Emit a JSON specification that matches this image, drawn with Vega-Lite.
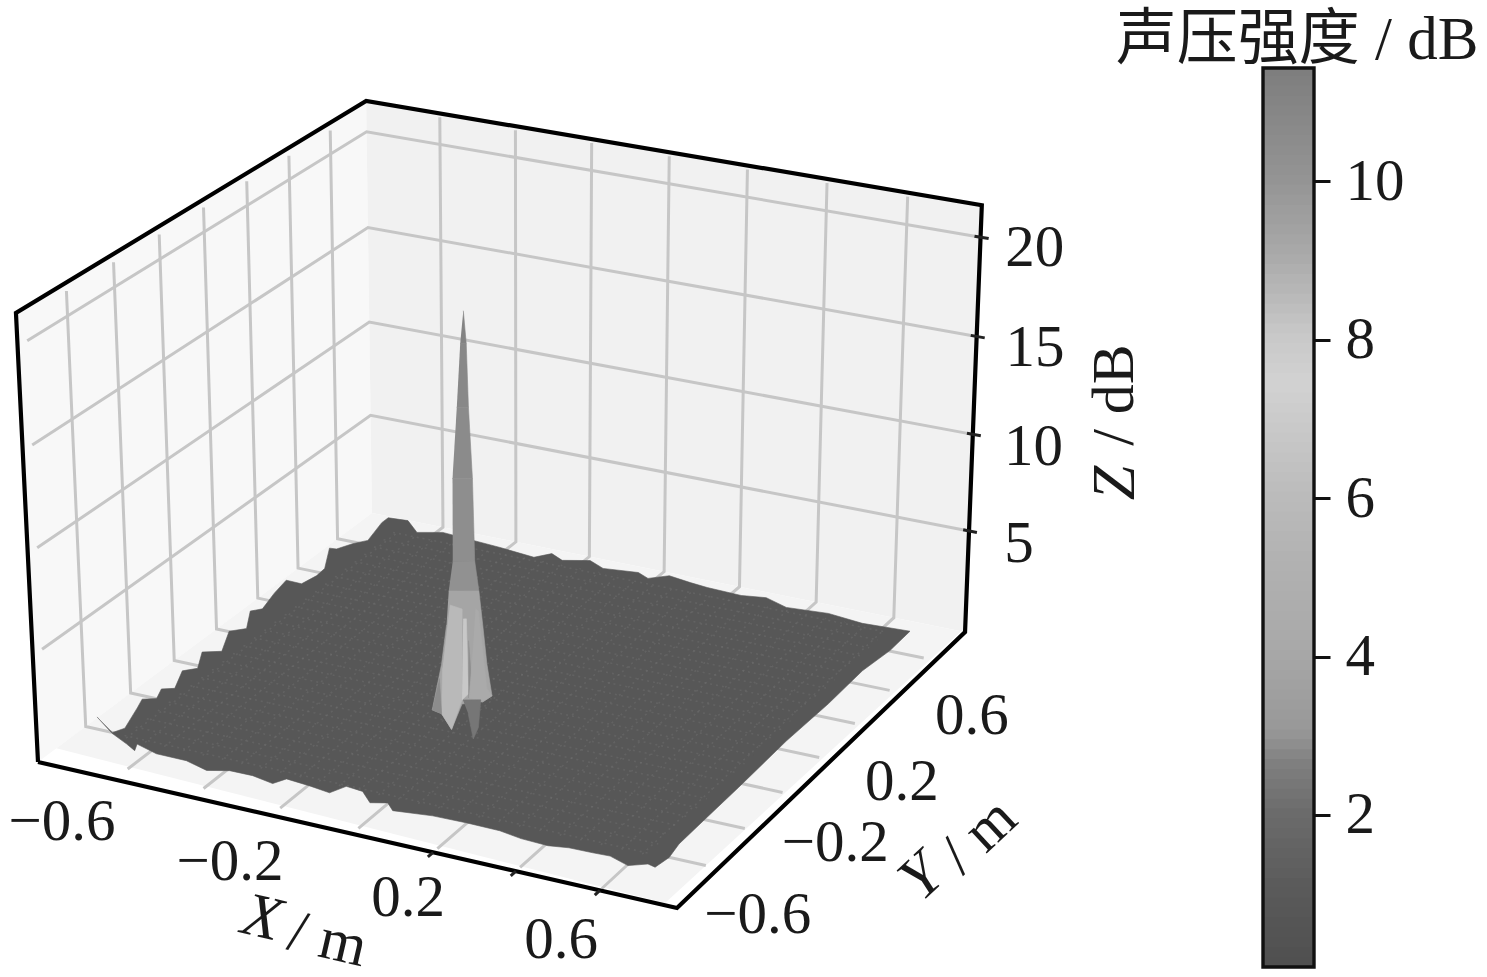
{"$schema":"https://vega.github.io/schema/vega-lite/v6.json","width":1487,"height":977,"autosize":"none","padding":0,"background":"white","config":{"view":{"stroke":null}},
"layer":[
{"data":{"values":[
{"k":"pl","p":"pl","i":0,"X":-0.8,"Y":-0.8,"Z":-0.3},{"k":"pl","p":"pl","i":1,"X":-0.8,"Y":0.8,"Z":-0.3},{"k":"pl","p":"pl","i":2,"X":-0.8,"Y":0.8,"Z":21.6},{"k":"pl","p":"pl","i":3,"X":-0.8,"Y":-0.8,"Z":21.6},
{"k":"pb","p":"pb","i":0,"X":-0.8,"Y":0.8,"Z":-0.3},{"k":"pb","p":"pb","i":1,"X":0.8,"Y":0.8,"Z":-0.3},{"k":"pb","p":"pb","i":2,"X":0.8,"Y":0.8,"Z":21.6},{"k":"pb","p":"pb","i":3,"X":-0.8,"Y":0.8,"Z":21.6},
{"k":"pf","p":"pf","i":0,"X":-0.8,"Y":-0.72,"Z":-0.3},{"k":"pf","p":"pf","i":1,"X":0.767,"Y":-0.79,"Z":-0.3},{"k":"pf","p":"pf","i":2,"X":0.79,"Y":0.8,"Z":-0.3},{"k":"pf","p":"pf","i":3,"X":-0.8,"Y":0.8,"Z":-0.3},

{"k":"g","p":"x1","i":0,"X":-0.6,"Y":-0.74,"Z":-0.3},{"k":"g","p":"x1","i":1,"X":-0.6,"Y":0.8,"Z":-0.3},{"k":"g","p":"x1","i":2,"X":-0.6,"Y":0.8,"Z":21.4},
{"k":"g","p":"x2","i":0,"X":-0.397,"Y":-0.75,"Z":-0.3},{"k":"g","p":"x2","i":1,"X":-0.397,"Y":0.8,"Z":-0.3},{"k":"g","p":"x2","i":2,"X":-0.397,"Y":0.8,"Z":21.4},
{"k":"g","p":"x3","i":0,"X":-0.195,"Y":-0.76,"Z":-0.3},{"k":"g","p":"x3","i":1,"X":-0.195,"Y":0.8,"Z":-0.3},{"k":"g","p":"x3","i":2,"X":-0.195,"Y":0.8,"Z":21.4},
{"k":"g","p":"x4","i":0,"X":0.008,"Y":-0.77,"Z":-0.3},{"k":"g","p":"x4","i":1,"X":0.008,"Y":0.8,"Z":-0.3},{"k":"g","p":"x4","i":2,"X":0.008,"Y":0.8,"Z":21.4},
{"k":"g","p":"x5","i":0,"X":0.21,"Y":-0.78,"Z":-0.3},{"k":"g","p":"x5","i":1,"X":0.21,"Y":0.8,"Z":-0.3},{"k":"g","p":"x5","i":2,"X":0.21,"Y":0.8,"Z":21.4},
{"k":"g","p":"x6","i":0,"X":0.413,"Y":-0.78,"Z":-0.3},{"k":"g","p":"x6","i":1,"X":0.413,"Y":0.8,"Z":-0.3},{"k":"g","p":"x6","i":2,"X":0.413,"Y":0.8,"Z":21.4},
{"k":"g","p":"x7","i":0,"X":0.616,"Y":-0.79,"Z":-0.3},{"k":"g","p":"x7","i":1,"X":0.616,"Y":0.8,"Z":-0.3},{"k":"g","p":"x7","i":2,"X":0.616,"Y":0.8,"Z":21.4},
{"k":"g","p":"y1","i":0,"X":0.77,"Y":-0.59,"Z":-0.3},{"k":"g","p":"y1","i":1,"X":-0.8,"Y":-0.59,"Z":-0.3},{"k":"g","p":"y1","i":2,"X":-0.8,"Y":-0.59,"Z":21.2},
{"k":"g","p":"y2","i":0,"X":0.77,"Y":-0.387,"Z":-0.3},{"k":"g","p":"y2","i":1,"X":-0.8,"Y":-0.387,"Z":-0.3},{"k":"g","p":"y2","i":2,"X":-0.8,"Y":-0.387,"Z":21.2},
{"k":"g","p":"y3","i":0,"X":0.77,"Y":-0.185,"Z":-0.3},{"k":"g","p":"y3","i":1,"X":-0.8,"Y":-0.185,"Z":-0.3},{"k":"g","p":"y3","i":2,"X":-0.8,"Y":-0.185,"Z":21.2},
{"k":"g","p":"y4","i":0,"X":0.77,"Y":0.016,"Z":-0.3},{"k":"g","p":"y4","i":1,"X":-0.8,"Y":0.016,"Z":-0.3},{"k":"g","p":"y4","i":2,"X":-0.8,"Y":0.016,"Z":21.2},
{"k":"g","p":"y5","i":0,"X":0.77,"Y":0.217,"Z":-0.3},{"k":"g","p":"y5","i":1,"X":-0.8,"Y":0.217,"Z":-0.3},{"k":"g","p":"y5","i":2,"X":-0.8,"Y":0.217,"Z":21.2},
{"k":"g","p":"y6","i":0,"X":0.77,"Y":0.418,"Z":-0.3},{"k":"g","p":"y6","i":1,"X":-0.8,"Y":0.418,"Z":-0.3},{"k":"g","p":"y6","i":2,"X":-0.8,"Y":0.418,"Z":21.2},
{"k":"g","p":"y7","i":0,"X":0.77,"Y":0.62,"Z":-0.3},{"k":"g","p":"y7","i":1,"X":-0.8,"Y":0.62,"Z":-0.3},{"k":"g","p":"y7","i":2,"X":-0.8,"Y":0.62,"Z":21.2},
{"k":"g","p":"z1","i":0,"X":-0.8,"Y":-0.76,"Z":5},{"k":"g","p":"z1","i":1,"X":-0.8,"Y":0.8,"Z":5},{"k":"g","p":"z1","i":2,"X":0.8,"Y":0.8,"Z":5},
{"k":"g","p":"z2","i":0,"X":-0.8,"Y":-0.76,"Z":10},{"k":"g","p":"z2","i":1,"X":-0.8,"Y":0.8,"Z":10},{"k":"g","p":"z2","i":2,"X":0.8,"Y":0.8,"Z":10},
{"k":"g","p":"z3","i":0,"X":-0.8,"Y":-0.76,"Z":15},{"k":"g","p":"z3","i":1,"X":-0.8,"Y":0.8,"Z":15},{"k":"g","p":"z3","i":2,"X":0.8,"Y":0.8,"Z":15},
{"k":"g","p":"z4","i":0,"X":-0.8,"Y":-0.76,"Z":20},{"k":"g","p":"z4","i":1,"X":-0.8,"Y":0.8,"Z":20},{"k":"g","p":"z4","i":2,"X":0.8,"Y":0.8,"Z":20},

{"k":"s","p":"box","i":0,"X":-0.8,"Y":-0.8,"Z":-0.3},{"k":"s","p":"box","i":1,"X":0.8,"Y":-0.8,"Z":-0.3},{"k":"s","p":"box","i":2,"X":0.8,"Y":0.8,"Z":-0.3},{"k":"s","p":"box","i":3,"X":0.8,"Y":0.8,"Z":21.6},{"k":"s","p":"box","i":4,"X":-0.8,"Y":0.8,"Z":21.6},{"k":"s","p":"box","i":5,"X":-0.8,"Y":-0.8,"Z":21.6},{"k":"s","p":"box","i":6,"X":-0.8,"Y":-0.8,"Z":-0.3},
{"k":"t","p":"t1","i":0,"X":0.785,"Y":0.8,"Z":5},{"k":"t","p":"t1","i":1,"X":0.82,"Y":0.8,"Z":5},
{"k":"t","p":"t2","i":0,"X":0.785,"Y":0.8,"Z":10},{"k":"t","p":"t2","i":1,"X":0.82,"Y":0.8,"Z":10},
{"k":"t","p":"t3","i":0,"X":0.785,"Y":0.8,"Z":15},{"k":"t","p":"t3","i":1,"X":0.82,"Y":0.8,"Z":15},
{"k":"t","p":"t4","i":0,"X":0.785,"Y":0.8,"Z":20},{"k":"t","p":"t4","i":1,"X":0.82,"Y":0.8,"Z":20},
{"k":"t","p":"t5","i":0,"X":0.21,"Y":-0.8,"Z":-0.3},{"k":"t","p":"t5","i":1,"X":0.21,"Y":-0.825,"Z":-0.3},
{"k":"t","p":"t6","i":0,"X":0.413,"Y":-0.8,"Z":-0.3},{"k":"t","p":"t6","i":1,"X":0.413,"Y":-0.825,"Z":-0.3},
{"k":"t","p":"t7","i":0,"X":0.616,"Y":-0.8,"Z":-0.3},{"k":"t","p":"t7","i":1,"X":0.616,"Y":-0.825,"Z":-0.3},

{"k":"b","p":"a0","c":0.75,"i":0,"X":-0.7,"Y":-0.7,"Z":1.54},
{"k":"b","p":"a0","c":0.75,"i":1,"X":-0.662,"Y":-0.7,"Z":0.88},{"k":"b","p":"a0","c":0.75,"i":2,"X":-0.625,"Y":-0.7,"Z":0.51},{"k":"b","p":"a0","c":0.75,"i":3,"X":-0.604,"Y":-0.7,"Z":0.26},{"k":"b","p":"a0","c":0.75,"i":4,"X":-0.597,"Y":-0.7,"Z":0.62},{"k":"b","p":"a0","c":0.75,"i":5,"X":-0.547,"Y":-0.7,"Z":0.35},{"k":"b","p":"a0","c":0.75,"i":6,"X":-0.469,"Y":-0.7,"Z":0.34},{"k":"b","p":"a0","c":0.75,"i":7,"X":-0.417,"Y":-0.7,"Z":0.08},{"k":"b","p":"a0","c":0.75,"i":8,"X":-0.357,"Y":-0.7,"Z":0.33},{"k":"b","p":"a0","c":0.75,"i":9,"X":-0.298,"Y":-0.7,"Z":0.34},{"k":"b","p":"a0","c":0.75,"i":10,"X":-0.247,"Y":-0.7,"Z":0.17},{"k":"b","p":"a0","c":0.75,"i":11,"X":-0.211,"Y":-0.7,"Z":0.56},{"k":"b","p":"a0","c":0.75,"i":12,"X":-0.152,"Y":-0.7,"Z":0.47},{"k":"b","p":"a0","c":0.75,"i":13,"X":-0.102,"Y":-0.7,"Z":0.35},{"k":"b","p":"a0","c":0.75,"i":14,"X":-0.059,"Y":-0.7,"Z":0.86},{"k":"b","p":"a0","c":0.75,"i":15,"X":-0.018,"Y":-0.7,"Z":0.79},{"k":"b","p":"a0","c":0.75,"i":16,"X":0,"Y":-0.7,"Z":0.31},{"k":"b","p":"a0","c":0.75,"i":17,"X":0.045,"Y":-0.7,"Z":0.5},{"k":"b","p":"a0","c":0.75,"i":18,"X":0.057,"Y":-0.7,"Z":0.17},{"k":"b","p":"a0","c":0.75,"i":19,"X":0.157,"Y":-0.7,"Z":0.36},{"k":"b","p":"a0","c":0.75,"i":20,"X":0.242,"Y":-0.7,"Z":0.39},{"k":"b","p":"a0","c":0.75,"i":21,"X":0.323,"Y":-0.7,"Z":0.37},{"k":"b","p":"a0","c":0.75,"i":22,"X":0.375,"Y":-0.7,"Z":0.22},{"k":"b","p":"a0","c":0.75,"i":23,"X":0.441,"Y":-0.7,"Z":0.17},{"k":"b","p":"a0","c":0.75,"i":24,"X":0.492,"Y":-0.7,"Z":0.3},{"k":"b","p":"a0","c":0.75,"i":25,"X":0.55,"Y":-0.7,"Z":0.32},{"k":"b","p":"a0","c":0.75,"i":26,"X":0.592,"Y":-0.7,"Z":0.35},{"k":"b","p":"a0","c":0.75,"i":27,"X":0.635,"Y":-0.7,"Z":0.08},{"k":"b","p":"a0","c":0.75,"i":28,"X":0.683,"Y":-0.7,"Z":0.38},{"k":"b","p":"a0","c":0.75,"i":29,"X":0.7,"Y":-0.7,"Z":0.3},
{"k":"b","p":"a0","c":0.75,"i":30,"X":0.7,"Y":-0.629,"Z":0.13},{"k":"b","p":"a0","c":0.75,"i":31,"X":0.7,"Y":-0.579,"Z":0.34},{"k":"b","p":"a0","c":0.75,"i":32,"X":0.7,"Y":-0.455,"Z":0.36},{"k":"b","p":"a0","c":0.75,"i":33,"X":0.7,"Y":-0.271,"Z":0.38},{"k":"b","p":"a0","c":0.75,"i":34,"X":0.7,"Y":-0.012,"Z":0.47},{"k":"b","p":"a0","c":0.75,"i":35,"X":0.7,"Y":0.223,"Z":0.36},{"k":"b","p":"a0","c":0.75,"i":36,"X":0.7,"Y":0.418,"Z":0.42},{"k":"b","p":"a0","c":0.75,"i":37,"X":0.7,"Y":0.582,"Z":0.12},{"k":"b","p":"a0","c":0.75,"i":38,"X":0.7,"Y":0.7,"Z":0.15},
{"k":"b","p":"a0","c":0.75,"i":39,"X":0.577,"Y":0.7,"Z":0.06},{"k":"b","p":"a0","c":0.75,"i":40,"X":0.489,"Y":0.7,"Z":0.22},{"k":"b","p":"a0","c":0.75,"i":41,"X":0.379,"Y":0.7,"Z":0.09},{"k":"b","p":"a0","c":0.75,"i":42,"X":0.326,"Y":0.7,"Z":0.39},{"k":"b","p":"a0","c":0.75,"i":43,"X":0.26,"Y":0.7,"Z":0.24},{"k":"b","p":"a0","c":0.75,"i":44,"X":0.17,"Y":0.7,"Z":0.3},{"k":"b","p":"a0","c":0.75,"i":45,"X":0.125,"Y":0.7,"Z":0.38},{"k":"b","p":"a0","c":0.75,"i":46,"X":0.069,"Y":0.7,"Z":0.52},{"k":"b","p":"a0","c":0.75,"i":47,"X":0.012,"Y":0.7,"Z":0.15},{"k":"b","p":"a0","c":0.75,"i":48,"X":-0.014,"Y":0.7,"Z":0.36},{"k":"b","p":"a0","c":0.75,"i":49,"X":-0.109,"Y":0.7,"Z":0.2},{"k":"b","p":"a0","c":0.75,"i":50,"X":-0.144,"Y":0.7,"Z":0.48},{"k":"b","p":"a0","c":0.75,"i":51,"X":-0.22,"Y":0.7,"Z":0.19},{"k":"b","p":"a0","c":0.75,"i":52,"X":-0.248,"Y":0.7,"Z":0.44},{"k":"b","p":"a0","c":0.75,"i":53,"X":-0.297,"Y":0.7,"Z":0.05},{"k":"b","p":"a0","c":0.75,"i":54,"X":-0.344,"Y":0.7,"Z":0.13},{"k":"b","p":"a0","c":0.75,"i":55,"X":-0.39,"Y":0.7,"Z":0.21},{"k":"b","p":"a0","c":0.75,"i":56,"X":-0.548,"Y":0.7,"Z":0.4},{"k":"b","p":"a0","c":0.75,"i":57,"X":-0.62,"Y":0.7,"Z":0.12},{"k":"b","p":"a0","c":0.75,"i":58,"X":-0.645,"Y":0.7,"Z":0.66},{"k":"b","p":"a0","c":0.75,"i":59,"X":-0.7,"Y":0.7,"Z":0.6},
{"k":"b","p":"a0","c":0.75,"i":60,"X":-0.7,"Y":0.666,"Z":0.6},{"k":"b","p":"a0","c":0.75,"i":61,"X":-0.7,"Y":0.593,"Z":0.21},{"k":"b","p":"a0","c":0.75,"i":62,"X":-0.7,"Y":0.515,"Z":0.64},{"k":"b","p":"a0","c":0.75,"i":63,"X":-0.7,"Y":0.433,"Z":1.0},{"k":"b","p":"a0","c":0.75,"i":64,"X":-0.7,"Y":0.398,"Z":1.32},{"k":"b","p":"a0","c":0.75,"i":65,"X":-0.7,"Y":0.372,"Z":0.44},{"k":"b","p":"a0","c":0.75,"i":66,"X":-0.7,"Y":0.332,"Z":0.38},{"k":"b","p":"a0","c":0.75,"i":67,"X":-0.7,"Y":0.256,"Z":0.55},{"k":"b","p":"a0","c":0.75,"i":68,"X":-0.7,"Y":0.182,"Z":1.33},{"k":"b","p":"a0","c":0.75,"i":69,"X":-0.7,"Y":0.123,"Z":1.12},{"k":"b","p":"a0","c":0.75,"i":70,"X":-0.7,"Y":0.064,"Z":0.77},{"k":"b","p":"a0","c":0.75,"i":71,"X":-0.7,"Y":0.006,"Z":1.12},{"k":"b","p":"a0","c":0.75,"i":72,"X":-0.7,"Y":-0.014,"Z":0.37},{"k":"b","p":"a0","c":0.75,"i":73,"X":-0.7,"Y":-0.096,"Z":0.9},{"k":"b","p":"a0","c":0.75,"i":74,"X":-0.7,"Y":-0.133,"Z":0.16},{"k":"b","p":"a0","c":0.75,"i":75,"X":-0.7,"Y":-0.224,"Z":0.87},{"k":"b","p":"a0","c":0.75,"i":76,"X":-0.7,"Y":-0.247,"Z":0.22},{"k":"b","p":"a0","c":0.75,"i":77,"X":-0.7,"Y":-0.317,"Z":0.67},{"k":"b","p":"a0","c":0.75,"i":78,"X":-0.7,"Y":-0.354,"Z":0.08},{"k":"b","p":"a0","c":0.75,"i":79,"X":-0.7,"Y":-0.414,"Z":0.55},{"k":"b","p":"a0","c":0.75,"i":80,"X":-0.7,"Y":-0.437,"Z":0.25},{"k":"b","p":"a0","c":0.75,"i":81,"X":-0.7,"Y":-0.501,"Z":0.76},{"k":"b","p":"a0","c":0.75,"i":82,"X":-0.7,"Y":-0.524,"Z":0.51},{"k":"b","p":"a0","c":0.75,"i":83,"X":-0.7,"Y":-0.582,"Z":-0.03},{"k":"b","p":"a0","c":0.75,"i":84,"X":-0.7,"Y":-0.636,"Z":0.21},

{"k":"m","p":"mx01","i":0,"X":-0.65,"Y":-0.66,"Z":0.35},{"k":"m","p":"mx01","i":1,"X":-0.65,"Y":0.66,"Z":0.35},{"k":"m","p":"mx02","i":0,"X":-0.6,"Y":-0.66,"Z":0.35},{"k":"m","p":"mx02","i":1,"X":-0.6,"Y":0.66,"Z":0.35},{"k":"m","p":"mx03","i":0,"X":-0.55,"Y":-0.66,"Z":0.35},{"k":"m","p":"mx03","i":1,"X":-0.55,"Y":0.66,"Z":0.35},{"k":"m","p":"mx04","i":0,"X":-0.5,"Y":-0.66,"Z":0.35},{"k":"m","p":"mx04","i":1,"X":-0.5,"Y":0.66,"Z":0.35},{"k":"m","p":"mx05","i":0,"X":-0.45,"Y":-0.66,"Z":0.35},{"k":"m","p":"mx05","i":1,"X":-0.45,"Y":0.66,"Z":0.35},{"k":"m","p":"mx06","i":0,"X":-0.4,"Y":-0.66,"Z":0.35},{"k":"m","p":"mx06","i":1,"X":-0.4,"Y":0.66,"Z":0.35},{"k":"m","p":"mx07","i":0,"X":-0.35,"Y":-0.66,"Z":0.35},{"k":"m","p":"mx07","i":1,"X":-0.35,"Y":0.66,"Z":0.35},{"k":"m","p":"mx08","i":0,"X":-0.3,"Y":-0.66,"Z":0.35},{"k":"m","p":"mx08","i":1,"X":-0.3,"Y":0.66,"Z":0.35},{"k":"m","p":"mx09","i":0,"X":-0.25,"Y":-0.66,"Z":0.35},{"k":"m","p":"mx09","i":1,"X":-0.25,"Y":0.66,"Z":0.35},{"k":"m","p":"mx10","i":0,"X":-0.2,"Y":-0.66,"Z":0.35},{"k":"m","p":"mx10","i":1,"X":-0.2,"Y":0.66,"Z":0.35},{"k":"m","p":"mx11","i":0,"X":-0.15,"Y":-0.66,"Z":0.35},{"k":"m","p":"mx11","i":1,"X":-0.15,"Y":0.66,"Z":0.35},{"k":"m","p":"mx12","i":0,"X":-0.1,"Y":-0.66,"Z":0.35},{"k":"m","p":"mx12","i":1,"X":-0.1,"Y":0.66,"Z":0.35},{"k":"m","p":"mx13","i":0,"X":-0.05,"Y":-0.66,"Z":0.35},{"k":"m","p":"mx13","i":1,"X":-0.05,"Y":0.66,"Z":0.35},{"k":"m","p":"mx14","i":0,"X":0,"Y":-0.66,"Z":0.35},{"k":"m","p":"mx14","i":1,"X":0,"Y":0.66,"Z":0.35},{"k":"m","p":"mx15","i":0,"X":0.05,"Y":-0.66,"Z":0.35},{"k":"m","p":"mx15","i":1,"X":0.05,"Y":0.66,"Z":0.35},{"k":"m","p":"mx16","i":0,"X":0.1,"Y":-0.66,"Z":0.35},{"k":"m","p":"mx16","i":1,"X":0.1,"Y":0.66,"Z":0.35},{"k":"m","p":"mx17","i":0,"X":0.15,"Y":-0.66,"Z":0.35},{"k":"m","p":"mx17","i":1,"X":0.15,"Y":0.66,"Z":0.35},{"k":"m","p":"mx18","i":0,"X":0.2,"Y":-0.66,"Z":0.35},{"k":"m","p":"mx18","i":1,"X":0.2,"Y":0.66,"Z":0.35},{"k":"m","p":"mx19","i":0,"X":0.25,"Y":-0.66,"Z":0.35},{"k":"m","p":"mx19","i":1,"X":0.25,"Y":0.66,"Z":0.35},{"k":"m","p":"mx20","i":0,"X":0.3,"Y":-0.66,"Z":0.35},{"k":"m","p":"mx20","i":1,"X":0.3,"Y":0.66,"Z":0.35},{"k":"m","p":"mx21","i":0,"X":0.35,"Y":-0.66,"Z":0.35},{"k":"m","p":"mx21","i":1,"X":0.35,"Y":0.66,"Z":0.35},{"k":"m","p":"mx22","i":0,"X":0.4,"Y":-0.66,"Z":0.35},{"k":"m","p":"mx22","i":1,"X":0.4,"Y":0.66,"Z":0.35},{"k":"m","p":"mx23","i":0,"X":0.45,"Y":-0.66,"Z":0.35},{"k":"m","p":"mx23","i":1,"X":0.45,"Y":0.66,"Z":0.35},{"k":"m","p":"mx24","i":0,"X":0.5,"Y":-0.66,"Z":0.35},{"k":"m","p":"mx24","i":1,"X":0.5,"Y":0.66,"Z":0.35},{"k":"m","p":"mx25","i":0,"X":0.55,"Y":-0.66,"Z":0.35},{"k":"m","p":"mx25","i":1,"X":0.55,"Y":0.66,"Z":0.35},{"k":"m","p":"mx26","i":0,"X":0.6,"Y":-0.66,"Z":0.35},{"k":"m","p":"mx26","i":1,"X":0.6,"Y":0.66,"Z":0.35},{"k":"m","p":"mx27","i":0,"X":0.65,"Y":-0.66,"Z":0.35},{"k":"m","p":"mx27","i":1,"X":0.65,"Y":0.66,"Z":0.35},
{"k":"m","p":"my01","i":0,"X":-0.66,"Y":-0.65,"Z":0.35},{"k":"m","p":"my01","i":1,"X":0.66,"Y":-0.65,"Z":0.35},{"k":"m","p":"my02","i":0,"X":-0.66,"Y":-0.6,"Z":0.35},{"k":"m","p":"my02","i":1,"X":0.66,"Y":-0.6,"Z":0.35},{"k":"m","p":"my03","i":0,"X":-0.66,"Y":-0.55,"Z":0.35},{"k":"m","p":"my03","i":1,"X":0.66,"Y":-0.55,"Z":0.35},{"k":"m","p":"my04","i":0,"X":-0.66,"Y":-0.5,"Z":0.35},{"k":"m","p":"my04","i":1,"X":0.66,"Y":-0.5,"Z":0.35},{"k":"m","p":"my05","i":0,"X":-0.66,"Y":-0.45,"Z":0.35},{"k":"m","p":"my05","i":1,"X":0.66,"Y":-0.45,"Z":0.35},{"k":"m","p":"my06","i":0,"X":-0.66,"Y":-0.4,"Z":0.35},{"k":"m","p":"my06","i":1,"X":0.66,"Y":-0.4,"Z":0.35},{"k":"m","p":"my07","i":0,"X":-0.66,"Y":-0.35,"Z":0.35},{"k":"m","p":"my07","i":1,"X":0.66,"Y":-0.35,"Z":0.35},{"k":"m","p":"my08","i":0,"X":-0.66,"Y":-0.3,"Z":0.35},{"k":"m","p":"my08","i":1,"X":0.66,"Y":-0.3,"Z":0.35},{"k":"m","p":"my09","i":0,"X":-0.66,"Y":-0.25,"Z":0.35},{"k":"m","p":"my09","i":1,"X":0.66,"Y":-0.25,"Z":0.35},{"k":"m","p":"my10","i":0,"X":-0.66,"Y":-0.2,"Z":0.35},{"k":"m","p":"my10","i":1,"X":0.66,"Y":-0.2,"Z":0.35},{"k":"m","p":"my11","i":0,"X":-0.66,"Y":-0.15,"Z":0.35},{"k":"m","p":"my11","i":1,"X":0.66,"Y":-0.15,"Z":0.35},{"k":"m","p":"my12","i":0,"X":-0.66,"Y":-0.1,"Z":0.35},{"k":"m","p":"my12","i":1,"X":0.66,"Y":-0.1,"Z":0.35},{"k":"m","p":"my13","i":0,"X":-0.66,"Y":-0.05,"Z":0.35},{"k":"m","p":"my13","i":1,"X":0.66,"Y":-0.05,"Z":0.35},{"k":"m","p":"my14","i":0,"X":-0.66,"Y":0,"Z":0.35},{"k":"m","p":"my14","i":1,"X":0.66,"Y":0,"Z":0.35},{"k":"m","p":"my15","i":0,"X":-0.66,"Y":0.05,"Z":0.35},{"k":"m","p":"my15","i":1,"X":0.66,"Y":0.05,"Z":0.35},{"k":"m","p":"my16","i":0,"X":-0.66,"Y":0.1,"Z":0.35},{"k":"m","p":"my16","i":1,"X":0.66,"Y":0.1,"Z":0.35},{"k":"m","p":"my17","i":0,"X":-0.66,"Y":0.15,"Z":0.35},{"k":"m","p":"my17","i":1,"X":0.66,"Y":0.15,"Z":0.35},{"k":"m","p":"my18","i":0,"X":-0.66,"Y":0.2,"Z":0.35},{"k":"m","p":"my18","i":1,"X":0.66,"Y":0.2,"Z":0.35},{"k":"m","p":"my19","i":0,"X":-0.66,"Y":0.25,"Z":0.35},{"k":"m","p":"my19","i":1,"X":0.66,"Y":0.25,"Z":0.35},{"k":"m","p":"my20","i":0,"X":-0.66,"Y":0.3,"Z":0.35},{"k":"m","p":"my20","i":1,"X":0.66,"Y":0.3,"Z":0.35},{"k":"m","p":"my21","i":0,"X":-0.66,"Y":0.35,"Z":0.35},{"k":"m","p":"my21","i":1,"X":0.66,"Y":0.35,"Z":0.35},{"k":"m","p":"my22","i":0,"X":-0.66,"Y":0.4,"Z":0.35},{"k":"m","p":"my22","i":1,"X":0.66,"Y":0.4,"Z":0.35},{"k":"m","p":"my23","i":0,"X":-0.66,"Y":0.45,"Z":0.35},{"k":"m","p":"my23","i":1,"X":0.66,"Y":0.45,"Z":0.35},{"k":"m","p":"my24","i":0,"X":-0.66,"Y":0.5,"Z":0.35},{"k":"m","p":"my24","i":1,"X":0.66,"Y":0.5,"Z":0.35},{"k":"m","p":"my25","i":0,"X":-0.66,"Y":0.55,"Z":0.35},{"k":"m","p":"my25","i":1,"X":0.66,"Y":0.55,"Z":0.35},{"k":"m","p":"my26","i":0,"X":-0.66,"Y":0.6,"Z":0.35},{"k":"m","p":"my26","i":1,"X":0.66,"Y":0.6,"Z":0.35},{"k":"m","p":"my27","i":0,"X":-0.66,"Y":0.65,"Z":0.35},{"k":"m","p":"my27","i":1,"X":0.66,"Y":0.65,"Z":0.35},

{"k":"f","p":"s01","c":11,"i":0,"X":-0.025,"Y":-0.183,"Z":20.2},{"k":"f","p":"s01","c":11,"i":1,"X":-0.02,"Y":-0.18,"Z":18.6},{"k":"f","p":"s01","c":11,"i":2,"X":-0.032,"Y":-0.186,"Z":18.6},
{"k":"f","p":"s02","c":10.7,"i":0,"X":-0.032,"Y":-0.186,"Z":18.6},{"k":"f","p":"s02","c":10.7,"i":1,"X":-0.02,"Y":-0.18,"Z":18.6},{"k":"f","p":"s02","c":10.7,"i":2,"X":-0.017,"Y":-0.178,"Z":15.5},{"k":"f","p":"s02","c":10.7,"i":3,"X":-0.04,"Y":-0.19,"Z":15.5},
{"k":"f","p":"s03","c":10.5,"i":0,"X":-0.04,"Y":-0.19,"Z":15.5},{"k":"f","p":"s03","c":10.5,"i":1,"X":-0.017,"Y":-0.178,"Z":15.5},{"k":"f","p":"s03","c":10.5,"i":2,"X":-0.01,"Y":-0.175,"Z":12},{"k":"f","p":"s03","c":10.5,"i":3,"X":-0.05,"Y":-0.195,"Z":12},
{"k":"f","p":"s04","c":10.3,"i":0,"X":-0.05,"Y":-0.195,"Z":12},{"k":"f","p":"s04","c":10.3,"i":1,"X":-0.01,"Y":-0.175,"Z":12},{"k":"f","p":"s04","c":10.3,"i":2,"X":-0.007,"Y":-0.173,"Z":7.9},{"k":"f","p":"s04","c":10.3,"i":3,"X":-0.051,"Y":-0.196,"Z":7.9},
{"k":"f","p":"s05","c":10.1,"i":0,"X":-0.051,"Y":-0.196,"Z":7.9},{"k":"f","p":"s05","c":10.1,"i":1,"X":-0.007,"Y":-0.173,"Z":7.9},{"k":"f","p":"s05","c":10.1,"i":2,"X":0.001,"Y":-0.169,"Z":6.4},{"k":"f","p":"s05","c":10.1,"i":3,"X":-0.06,"Y":-0.2,"Z":6.4},
{"k":"f","p":"s06","c":9.2,"i":0,"X":-0.06,"Y":-0.2,"Z":6.4},{"k":"f","p":"s06","c":9.2,"i":1,"X":0.001,"Y":-0.169,"Z":6.4},{"k":"f","p":"s06","c":9.2,"i":2,"X":0.008,"Y":-0.165,"Z":4.7},{"k":"f","p":"s06","c":9.2,"i":3,"X":0.016,"Y":-0.161,"Z":2.7},{"k":"f","p":"s06","c":9.2,"i":4,"X":0.026,"Y":-0.156,"Z":1.1},{"k":"f","p":"s06","c":9.2,"i":5,"X":0.007,"Y":-0.166,"Z":0.8},{"k":"f","p":"s06","c":9.2,"i":6,"X":-0.035,"Y":-0.188,"Z":0.7},{"k":"f","p":"s06","c":9.2,"i":7,"X":-0.057,"Y":-0.199,"Z":-0.6},{"k":"f","p":"s06","c":9.2,"i":8,"X":-0.077,"Y":-0.209,"Z":0.2},{"k":"f","p":"s06","c":9.2,"i":9,"X":-0.096,"Y":-0.219,"Z":0.4},{"k":"f","p":"s06","c":9.2,"i":10,"X":-0.076,"Y":-0.209,"Z":2.7},{"k":"f","p":"s06","c":9.2,"i":11,"X":-0.065,"Y":-0.203,"Z":4.7},
{"k":"f","p":"s07","c":8.5,"i":0,"X":-0.058,"Y":-0.199,"Z":5.7},{"k":"f","p":"s07","c":8.5,"i":1,"X":-0.033,"Y":-0.187,"Z":5.5},{"k":"f","p":"s07","c":8.5,"i":2,"X":-0.035,"Y":-0.188,"Z":0.9},{"k":"f","p":"s07","c":8.5,"i":3,"X":-0.057,"Y":-0.199,"Z":-0.6},{"k":"f","p":"s07","c":8.5,"i":4,"X":-0.077,"Y":-0.209,"Z":0.2},{"k":"f","p":"s07","c":8.5,"i":5,"X":-0.074,"Y":-0.208,"Z":2.5},
{"k":"f","p":"s08","c":8,"i":0,"X":-0.031,"Y":-0.186,"Z":5},{"k":"f","p":"s08","c":8,"i":1,"X":-0.025,"Y":-0.182,"Z":5},{"k":"f","p":"s08","c":8,"i":2,"X":-0.022,"Y":-0.181,"Z":1.2},{"k":"f","p":"s08","c":8,"i":3,"X":-0.035,"Y":-0.188,"Z":0.9},
{"k":"f","p":"s09","c":10.3,"i":0,"X":-0.021,"Y":-0.18,"Z":3.9},{"k":"f","p":"s09","c":10.3,"i":1,"X":-0.016,"Y":-0.178,"Z":2.2},{"k":"f","p":"s09","c":10.3,"i":2,"X":-0.022,"Y":-0.181,"Z":1},
{"k":"f","p":"s10","c":9,"i":0,"X":-0.006,"Y":-0.173,"Z":5.5},{"k":"f","p":"s10","c":9,"i":1,"X":0,"Y":-0.17,"Z":5.4},{"k":"f","p":"s10","c":9,"i":2,"X":0.016,"Y":-0.162,"Z":1.5},{"k":"f","p":"s10","c":9,"i":3,"X":0.026,"Y":-0.156,"Z":1.1},{"k":"f","p":"s10","c":9,"i":4,"X":0.007,"Y":-0.166,"Z":0.8},{"k":"f","p":"s10","c":9,"i":5,"X":-0.02,"Y":-0.18,"Z":1},{"k":"f","p":"s10","c":9,"i":6,"X":-0.013,"Y":-0.176,"Z":3.2},
{"k":"f","p":"s11","c":10.4,"i":0,"X":-0.081,"Y":-0.211,"Z":2},{"k":"f","p":"s11","c":10.4,"i":1,"X":-0.077,"Y":-0.209,"Z":0.2},{"k":"f","p":"s11","c":10.4,"i":2,"X":-0.096,"Y":-0.219,"Z":0.4},
{"k":"f","p":"s12","c":2.3,"i":0,"X":-0.033,"Y":-0.187,"Z":0.9},{"k":"f","p":"s12","c":2.3,"i":1,"X":0.003,"Y":-0.168,"Z":0.9},{"k":"f","p":"s12","c":2.3,"i":2,"X":-0.002,"Y":-0.171,"Z":-0.5},{"k":"f","p":"s12","c":2.3,"i":3,"X":-0.013,"Y":-0.176,"Z":-1.1},{"k":"f","p":"s12","c":2.3,"i":4,"X":-0.023,"Y":-0.181,"Z":0.2},

{"k":"l","t":"−0.6","X":-0.593,"Y":-1.038,"Z":-0.3},{"k":"l","t":"−0.2","X":-0.164,"Y":-1.041,"Z":-0.3},{"k":"l","t":"0.2","X":0.263,"Y":-1.018,"Z":-0.3},{"k":"l","t":"0.6","X":0.644,"Y":-1.044,"Z":-0.3},
{"k":"l","t":"−0.6","X":0.968,"Y":-0.751,"Z":-0.3},{"k":"l","t":"−0.2","X":0.977,"Y":-0.363,"Z":-0.3},{"k":"l","t":"0.2","X":0.987,"Y":-0.016,"Z":-0.3},{"k":"l","t":"0.6","X":0.994,"Y":0.375,"Z":-0.3},
{"k":"lz","t":"5","X":0.813,"Y":0.8,"Z":5},{"k":"lz","t":"10","X":0.803,"Y":0.8,"Z":10},{"k":"lz","t":"15","X":0.797,"Y":0.8,"Z":15},{"k":"lz","t":"20","X":0.787,"Y":0.8,"Z":20},
{"k":"xi","t":"X","X":0.028,"Y":-1.241,"Z":-0.3},{"k":"xr","t":"/ m","X":0.202,"Y":-1.267,"Z":-0.3},
{"k":"yi","t":"Y","X":1.21,"Y":-0.43,"Z":-0.3},{"k":"yr","t":"/ m","X":1.245,"Y":-0.189,"Z":-0.3},
{"k":"zi","t":"Z","X":0.788,"Y":1.811,"Z":-0.3},{"k":"zr","t":"/ dB","X":0.572,"Y":2.367,"Z":-0.3}
]},
"transform":[
{"calculate":"(datum.X+0.8)/1.6","as":"u"},
{"calculate":"(datum.Y+0.8)/1.6","as":"v"},
{"calculate":"(datum.Z+0.3)/21.9","as":"w"},
{"calculate":"1-0.0533*datum.u+0.1033*datum.v-0.03*datum.w","as":"den"},
{"calculate":"(38+602.9*datum.u+372.4*datum.v-20*datum.w)/datum.den+datum.w*(-2.6+5.6*datum.u+5*datum.v)","as":"sx"},
{"calculate":"(762+97.6*datum.u-196*datum.v-458.4*datum.w)/datum.den+datum.w*(3.3*datum.u+0.7*datum.v)","as":"sy"}
],
"encoding":{
"x":{"field":"sx","type":"quantitative","axis":null,"scale":{"domain":[0,1487],"range":[0,1487],"nice":false,"zero":false}},
"y":{"field":"sy","type":"quantitative","axis":null,"scale":{"domain":[0,977],"range":[0,977],"nice":false,"zero":false}}
},
"layer":[
{"transform":[{"filter":"datum.k=='pl'"}],"mark":{"type":"line","fill":"#f8f8f8","stroke":"transparent"},"encoding":{"order":{"field":"i"}}},
{"transform":[{"filter":"datum.k=='pb'"}],"mark":{"type":"line","fill":"#f1f1f1","stroke":"transparent"},"encoding":{"order":{"field":"i"}}},
{"transform":[{"filter":"datum.k=='pf'"}],"mark":{"type":"line","fill":"#f4f4f4","stroke":"transparent"},"encoding":{"order":{"field":"i"}}},
{"transform":[{"filter":"datum.k=='g'"}],"mark":{"type":"line","stroke":"#c6c6c6","strokeWidth":3,"strokeJoin":"miter"},"encoding":{"detail":{"field":"p"},"order":{"field":"i"}}},
{"transform":[{"filter":"datum.k=='s'"}],"mark":{"type":"line","stroke":"#000000","strokeWidth":4.2,"strokeJoin":"miter"},"encoding":{"order":{"field":"i"}}},
{"transform":[{"filter":"datum.k=='t'"}],"mark":{"type":"line","stroke":"#222222","strokeWidth":3},"encoding":{"detail":{"field":"p"},"order":{"field":"i"}}},
{"transform":[{"filter":"datum.k=='b'"}],"mark":{"type":"line","fill":"#575757","stroke":"#575757","strokeWidth":0.6,"strokeJoin":"round"},"encoding":{"order":{"field":"i"}}},
{"transform":[{"filter":"datum.k=='m'"}],"mark":{"type":"line","stroke":"#707070","strokeWidth":1.6,"strokeDash":[2,4],"opacity":0.45},"encoding":{"detail":{"field":"p"},"order":{"field":"i"}}},
{"transform":[{"filter":"datum.k=='f'"}],"mark":{"type":"line","strokeWidth":0.6,"strokeJoin":"round"},"encoding":{"detail":{"field":"p"},"order":{"field":"i"},
"stroke":{"field":"c","type":"quantitative","legend":null,"scale":{"domain":[0.08,1,2,2.6,3,4,5,6,7.4,8,9,10,11.43],"range":["#505050","#5a5a5a","#6c6c6c","#808080","#989898","#a8a8a8","#b0b0b0","#bcbcbc","#d2d2d2","#c8c8c8","#aaaaaa","#939393","#7c7c7c"]}},
"fill":{"field":"c","type":"quantitative","legend":null,"scale":{"domain":[0.08,1,2,2.6,3,4,5,6,7.4,8,9,10,11.43],"range":["#505050","#5a5a5a","#6c6c6c","#808080","#989898","#a8a8a8","#b0b0b0","#bcbcbc","#d2d2d2","#c8c8c8","#aaaaaa","#939393","#7c7c7c"]}}}},
{"transform":[{"filter":"datum.k=='l'"}],"mark":{"type":"text","font":"Liberation Serif","fontSize":59,"fill":"#1a1a1a","align":"center","baseline":"middle"},"encoding":{"text":{"field":"t"}}},
{"transform":[{"filter":"datum.k=='lz'"}],"mark":{"type":"text","font":"Liberation Serif","fontSize":59,"fill":"#1a1a1a","align":"left","baseline":"middle","dx":30,"dy":12},"encoding":{"text":{"field":"t"}}},
{"transform":[{"filter":"datum.k=='xi'"}],"mark":{"type":"text","font":"Liberation Serif","fontStyle":"italic","fontSize":62,"fill":"#1a1a1a","align":"center","baseline":"middle","angle":13},"encoding":{"text":{"field":"t"}}},
{"transform":[{"filter":"datum.k=='xr'"}],"mark":{"type":"text","font":"Liberation Serif","fontSize":60,"fill":"#1a1a1a","align":"center","baseline":"middle","angle":13},"encoding":{"text":{"field":"t"}}},
{"transform":[{"filter":"datum.k=='yi'"}],"mark":{"type":"text","font":"Liberation Serif","fontStyle":"italic","fontSize":62,"fill":"#1a1a1a","align":"center","baseline":"middle","angle":-43},"encoding":{"text":{"field":"t"}}},
{"transform":[{"filter":"datum.k=='yr'"}],"mark":{"type":"text","font":"Liberation Serif","fontSize":60,"fill":"#1a1a1a","align":"center","baseline":"middle","angle":-43},"encoding":{"text":{"field":"t"}}},
{"transform":[{"filter":"datum.k=='zi'"}],"mark":{"type":"text","font":"Liberation Serif","fontStyle":"italic","fontSize":62,"fill":"#1a1a1a","align":"center","baseline":"middle","angle":-90},"encoding":{"text":{"field":"t"}}},
{"transform":[{"filter":"datum.k=='zr'"}],"mark":{"type":"text","font":"Liberation Serif","fontSize":60,"fill":"#1a1a1a","align":"center","baseline":"middle","angle":-90},"encoding":{"text":{"field":"t"}}}
]},
{"layer":[
{"data":{"values":[{"v":0.08,"v2":0.22},{"v":0.205,"v2":0.345},{"v":0.33,"v2":0.47},{"v":0.455,"v2":0.595},{"v":0.58,"v2":0.72},{"v":0.705,"v2":0.845},{"v":0.83,"v2":0.97},{"v":0.955,"v2":1.095},{"v":1.08,"v2":1.22},{"v":1.205,"v2":1.345},{"v":1.33,"v2":1.47},{"v":1.455,"v2":1.595},{"v":1.58,"v2":1.72},{"v":1.705,"v2":1.845},{"v":1.83,"v2":1.97},{"v":1.955,"v2":2.095},{"v":2.08,"v2":2.22},{"v":2.205,"v2":2.345},{"v":2.33,"v2":2.47},{"v":2.455,"v2":2.595},{"v":2.58,"v2":2.72},{"v":2.705,"v2":2.845},{"v":2.83,"v2":2.97},{"v":2.955,"v2":3.095},{"v":3.08,"v2":3.22},{"v":3.205,"v2":3.345},{"v":3.33,"v2":3.47},{"v":3.455,"v2":3.595},{"v":3.58,"v2":3.72},{"v":3.705,"v2":3.845},{"v":3.83,"v2":3.97},{"v":3.955,"v2":4.095},{"v":4.08,"v2":4.22},{"v":4.205,"v2":4.345},{"v":4.33,"v2":4.47},{"v":4.455,"v2":4.595},{"v":4.58,"v2":4.72},{"v":4.705,"v2":4.845},{"v":4.83,"v2":4.97},{"v":4.955,"v2":5.095},{"v":5.08,"v2":5.22},{"v":5.205,"v2":5.345},{"v":5.33,"v2":5.47},{"v":5.455,"v2":5.595},{"v":5.58,"v2":5.72},{"v":5.705,"v2":5.845},{"v":5.83,"v2":5.97},{"v":5.955,"v2":6.095},{"v":6.08,"v2":6.22},{"v":6.205,"v2":6.345},{"v":6.33,"v2":6.47},{"v":6.455,"v2":6.595},{"v":6.58,"v2":6.72},{"v":6.705,"v2":6.845},{"v":6.83,"v2":6.97},{"v":6.955,"v2":7.095},{"v":7.08,"v2":7.22},{"v":7.205,"v2":7.345},{"v":7.33,"v2":7.47},{"v":7.455,"v2":7.595},{"v":7.58,"v2":7.72},{"v":7.705,"v2":7.845},{"v":7.83,"v2":7.97},{"v":7.955,"v2":8.095},{"v":8.08,"v2":8.22},{"v":8.205,"v2":8.345},{"v":8.33,"v2":8.47},{"v":8.455,"v2":8.595},{"v":8.58,"v2":8.72},{"v":8.705,"v2":8.845},{"v":8.83,"v2":8.97},{"v":8.955,"v2":9.095},{"v":9.08,"v2":9.22},{"v":9.205,"v2":9.345},{"v":9.33,"v2":9.47},{"v":9.455,"v2":9.595},{"v":9.58,"v2":9.72},{"v":9.705,"v2":9.845},{"v":9.83,"v2":9.97},{"v":9.955,"v2":10.095},{"v":10.08,"v2":10.22},{"v":10.205,"v2":10.345},{"v":10.33,"v2":10.47},{"v":10.455,"v2":10.595},{"v":10.58,"v2":10.72},{"v":10.705,"v2":10.845},{"v":10.83,"v2":10.97},{"v":10.955,"v2":11.095},{"v":11.08,"v2":11.22},{"v":11.205,"v2":11.345},{"v":11.33,"v2":11.43}]},
"mark":{"type":"rect"},
"encoding":{
"x":{"datum":0,"type":"quantitative","axis":null,"scale":{"domain":[0,1],"range":[1263,1314],"nice":false,"zero":false}},
"x2":{"datum":1},
"y":{"field":"v","type":"quantitative","scale":{"domain":[0.08,11.43],"range":[967,68],"nice":false,"zero":false},
"axis":{"orient":"right","offset":-173,"values":[2,4,6,8,10],"format":"d","title":null,"grid":false,"domain":false,"tickColor":"#111111","tickWidth":3,"tickSize":16,"labelFont":"Liberation Serif","labelFontSize":59,"labelColor":"#1a1a1a","labelPadding":15,"labelFlush":false}},
"y2":{"field":"v2"},
"fill":{"field":"v","type":"quantitative","legend":null,"scale":{"domain":[0.08,1,2,2.6,3,4,5,6,7.4,8,9,10,11.43],"range":["#505050","#5a5a5a","#6c6c6c","#808080","#989898","#a8a8a8","#b0b0b0","#bcbcbc","#d2d2d2","#c8c8c8","#aaaaaa","#939393","#7c7c7c"]}}
}},
{"data":{"values":[{"a":0,"b":1,"lo":0.08,"hi":11.43}]},
"mark":{"type":"rect","fill":"transparent","stroke":"#111111","strokeWidth":3.4},
"encoding":{"x":{"field":"a","type":"quantitative","axis":null},"x2":{"field":"b"},"y":{"field":"lo","type":"quantitative"},"y2":{"field":"hi"}}},
{"data":{"values":[{"a":0.667,"lo":11.77,"t":"声压强度 / dB"}]},
"mark":{"type":"text","font":"Liberation Serif, Noto Sans CJK SC","fontSize":61,"fill":"#1a1a1a","align":"center","baseline":"middle"},
"encoding":{"x":{"field":"a","type":"quantitative","axis":null},"y":{"field":"lo","type":"quantitative"},"text":{"field":"t"}}}
]}
],
"resolve":{"scale":{"x":"independent","y":"independent","fill":"independent","stroke":"independent"},"axis":{"y":"independent","x":"independent"}}
}
